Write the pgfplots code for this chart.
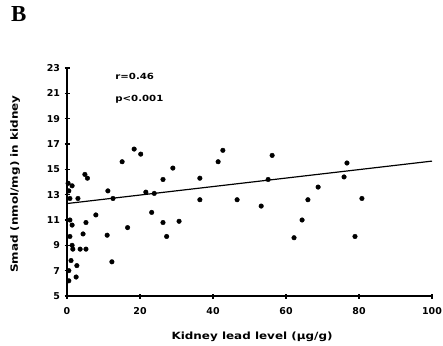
\documentclass[border=0pt]{standalone}
\usepackage{pgfplots}
\pgfplotsset{compat=1.18}
\usepackage{fontspec}
\setmainfont{DejaVu Sans}
\newfontfamily\widefont[FakeStretch=1.2]{DejaVu Sans}
\begin{document}
\begin{tikzpicture}[x=1bp,y=1bp]
\useasboundingbox (0,0) rectangle (443,345);
\node[anchor=north west,inner sep=0pt,font=\fontspec{Liberation Serif}\bfseries\fontsize{23}{25}\selectfont] at (11,339) {B};
\begin{axis}[
  at={(67bp,49bp)}, anchor=origin,
  scale only axis, width=365bp, height=228bp,
  xmin=0, xmax=100, ymin=5, ymax=23,
  axis x line=bottom, axis y line=left,
  axis line style={line width=1.4pt,-},
  xtick={0,20,40,60,80,100},
  ytick={5,7,9,11,13,15,17,19,21,23},
  tick align=center, major tick length=5bp,
  tick style={line width=1.2pt,black},
  /pgf/number format/assume math mode=true,
  ticklabel style={font=\bfseries\fontsize{9.5}{10}\selectfont},
  xticklabel style={yshift=-5bp},
  yticklabel style={xshift=-1bp},
  xlabel={Kidney lead level (μg/g)},
  ylabel={Smad (nmol/mg) in kidney},
  label style={font=\widefont\bfseries\fontsize{10}{11}\selectfont},
  xlabel style={at={(axis description cs:0.507,-0.18)}, anchor=center},
  ylabel style={at={(axis description cs:-0.142,0.49)}, anchor=center},
  clip=false,
]
\addplot[only marks, mark=*, mark size=2.3bp, black] coordinates {
(0.3,13.9) (0.5,13.3) (0.8,12.7) (3.0,12.7) (0.8,11.0) (1.4,10.6)
(0.8,9.7) (1.4,9.0) (1.1,7.8) (0.5,7.0) (0.5,6.2) (1.6,8.7)
(3.6,8.7) (5.2,8.7) (2.7,7.4) (2.5,6.5) (4.4,9.9) (5.2,10.8)
(7.9,11.4) (1.4,13.7) (4.9,14.6) (5.6,14.3) (11.2,13.3) (12.6,12.7)
(11.0,9.8) (12.3,7.7) (15.1,15.6) (18.4,16.6) (20.2,16.2) (16.6,10.4)
(21.6,13.2) (23.9,13.1) (23.2,11.6) (26.3,14.2) (29.0,15.1) (26.3,10.8)
(30.7,10.9) (27.3,9.7) (36.4,14.3) (36.4,12.6) (41.4,15.6) (42.7,16.5)
(46.6,12.6) (53.2,12.1) (55.1,14.2) (56.2,16.1) (62.2,9.6) (64.4,11.0)
(66.0,12.6) (68.8,13.6) (75.9,14.4) (76.7,15.5) (78.9,9.7) (80.8,12.7)
};
\addplot[black, line width=1.2pt] coordinates {(0,12.3) (100,15.65)};
\node[anchor=west,font=\widefont\bfseries\fontsize{8.5}{9}\selectfont] at (axis cs:12.3,22.3) {r=0.46};
\node[anchor=west,font=\widefont\bfseries\fontsize{8.5}{9}\selectfont] at (axis cs:12.3,20.5) {p<0.001};
\end{axis}
\end{tikzpicture}
\end{document}
